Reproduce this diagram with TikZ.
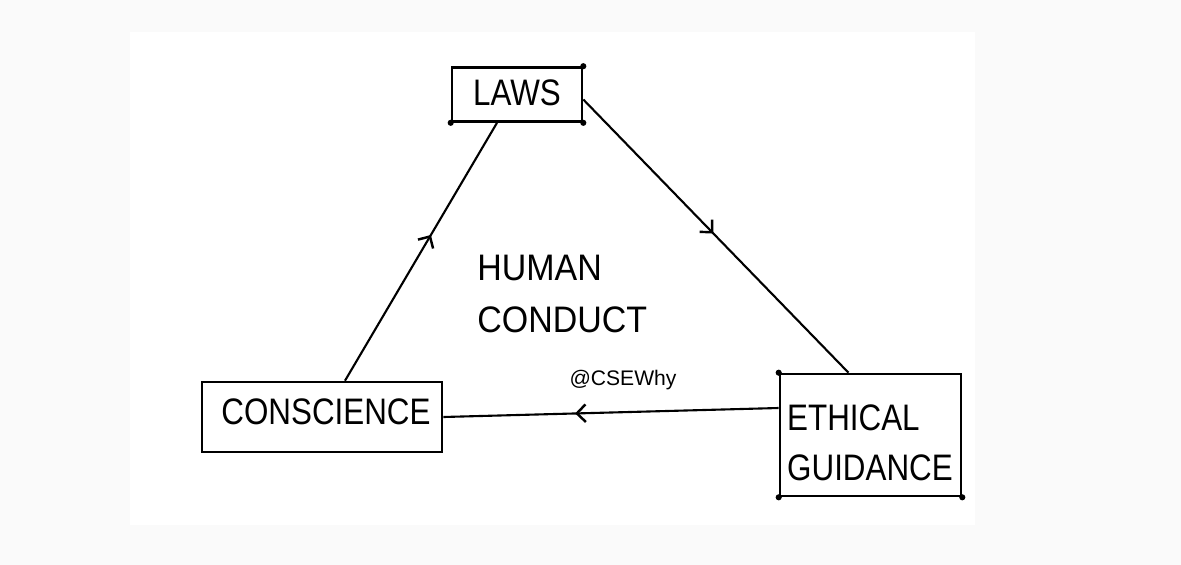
\documentclass[tikz,border=0pt]{standalone}
\usepackage{graphicx}
\usepackage{fontspec}
\setmainfont{Liberation Sans}
\usetikzlibrary{calc,arrows.meta,decorations.markings}
\definecolor{bg}{HTML}{FAFAFA}
\newcommand{\hw}[1]{\scalebox{0.85}[1]{#1}}
\newcommand{\hwide}[1]{\scalebox{0.92}[1]{#1}}
\begin{document}
\begin{tikzpicture}[x=0.02cm,y=-0.02cm,
  box/.style={draw,line width=1.5pt,inner sep=0pt},
  hand/.style={font=\fontsize{21}{28.5}\selectfont,inner sep=0pt,align=left},
  conn/.style={line width=1.2pt},
  cdot/.style={circle,fill,inner sep=0pt,minimum size=3.5pt},
  midarrow/.style={postaction={decorate},decoration={markings,
    mark=at position #1 with {\arrow{Straight Barb[length=5pt,width=10pt,line width=1.4pt]}}}}]
\fill[bg] (0,0) rectangle (1181,565);
\fill[white] (130,32) rectangle (975,525);
% boxes
\node[box,minimum width=2.6cm,minimum height=1.08cm] (laws) at (517,94.5) {};
\node[box,minimum width=4.8cm,minimum height=1.4cm] (consc) at (322,417) {};
\node[box,minimum width=3.62cm,minimum height=2.44cm] (ethic) at (870.5,435) {};
% texts
\node[hand] (lawst) at (517,93) {\hw{LAWS}};
\node[hand] (consct) at (326,412) {\hw{CONSCIENCE}};
\node[hand] (ethict) at (870,443) {\hw{ETHICAL}\\[0pt]\hw{GUIDANCE}};
\node[hand,anchor=west] (human) at (477,294) {\hwide{HUMAN}\\[1.2pt]\hwide{CONDUCT}};
\node[font=\fontsize{12}{14}\selectfont,inner sep=0pt] (wm) at (623,380) {@CSEWhy};
% corner dots
\node[cdot] (d1) at (laws.north east) {};
\node[cdot] (d2) at (laws.south west) {};
\node[cdot] (d3) at (laws.south east) {};
\node[cdot] (d4) at (ethic.north west) {};
\node[cdot] (d5) at (ethic.south west) {};
\node[cdot] (d6) at (ethic.south east) {};
% connectors
\draw[conn,midarrow=0.565] ($(consc.north)+(23,0)$) -- ($(laws.south)+(-20,0)$);
\draw[conn,midarrow=0.49] ($(laws.east)+(0,5)$) -- ($(ethic.north)+(-22,0)$);
\draw[conn,midarrow=0.607] ($(ethic.west)+(0,-27)$) -- (consc.east);
\end{tikzpicture}
\end{document}
